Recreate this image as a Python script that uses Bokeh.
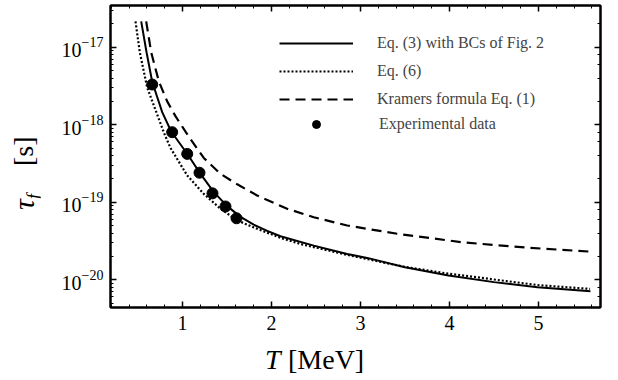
from bokeh.plotting import figure
from bokeh.models import (LinearAxis, LogAxis, Legend, LegendItem, Div,
                          FixedTicker, LogTicker, CustomJSTickFormatter, Range1d)
from bokeh.layouts import row, column
from bokeh.embed import file_html
from bokeh.resources import INLINE

# ---------------- data ----------------
T_eq3 = [0.536, 0.596, 0.66, 0.772, 0.873, 1.053, 1.202, 1.352, 1.502, 1.652,
         1.80, 1.952, 2.101, 2.475, 2.851, 3.075, 3.5, 3.989, 4.5, 4.989, 5.584]
tau_eq3 = [2.15e-17, 8.61e-18, 3.55e-18, 1.45e-18, 8.17e-19, 4.22e-19, 2.32e-19,
           1.35e-19, 8.9e-20, 6.46e-20, 5.13e-20, 4.27e-20, 3.63e-20, 2.75e-20,
           2.15e-20, 1.91e-20, 1.45e-20, 1.135e-20, 9.3e-21, 8.0e-21, 7.1e-21]

T_eq6 = [0.472, 0.52, 0.603, 0.716, 0.79, 0.865, 1.053, 1.239, 1.427, 1.615,
         1.839, 2.1, 2.33, 2.85, 3.5, 4.0, 5.0, 5.58]
tau_eq6 = [2.15e-17, 8.61e-18, 3.02e-18, 1.35e-18, 7.94e-19, 5.01e-19, 2.21e-19,
           1.28e-19, 8.22e-20, 5.81e-20, 4.54e-20, 3.47e-20, 2.88e-20, 2.09e-20,
           1.46e-20, 1.19e-20, 8.5e-21, 7.6e-21]

T_kramers = [0.592, 0.648, 0.734, 0.828, 0.921, 1.034, 1.09, 1.239, 1.427, 1.615,
             1.839, 2.176, 2.475, 2.851, 3.412, 4.161, 4.91, 5.565]
tau_kramers = [2.15e-17, 8.61e-18, 3.63e-18, 2.0e-18, 1.29e-18, 8.13e-19, 6.53e-19,
               3.72e-19, 2.32e-19, 1.70e-19, 1.22e-19, 8.22e-20, 6.40e-20, 5.0e-20,
               3.91e-20, 3.02e-20, 2.57e-20, 2.31e-20]

T_exp = [0.66, 0.884, 1.053, 1.191, 1.337, 1.483, 1.607]
tau_exp = [3.3e-18, 8.0e-19, 4.2e-19, 2.4e-19, 1.3e-19, 8.8e-20, 6.2e-20]

x_major_ticks = [1, 2, 3, 4, 5]
x_minor_ticks = [0.2, 0.4, 0.6, 0.8, 1.2, 1.4, 1.6, 1.8, 2.2, 2.4, 2.6, 2.8,
                 3.2, 3.4, 3.6, 3.8, 4.2, 4.4, 4.6, 4.8, 5.2, 5.4, 5.6]

legend_labels = ["Eq. (3) with BCs of Fig. 2", "Eq. (6)",
                 "Kramers formula Eq. (1)", "Experimental data"]

# ---------------- figure ----------------
FONT = "Liberation Serif"
X0, X1 = 0.191, 5.697
L_TOP, L_BOT = -16.462, -20.359
FW, FH = 490, 302
YLAB_W = 40          # width of the y-title column
BL, BT, BR, BB = 70, 5, 8, 36
XLAB_H = 36

p = figure(frame_width=FW, frame_height=FH, y_axis_type="log",
           x_range=Range1d(X0, X1), y_range=Range1d(10 ** L_BOT, 10 ** L_TOP),
           output_backend="svg", toolbar_location=None,
           min_border_left=BL, min_border_right=BR, min_border_top=BT,
           min_border_bottom=BB, background_fill_color="white",
           border_fill_color="white", margin=0)
p.xgrid.visible = False
p.ygrid.visible = False
p.outline_line_color = "black"
p.outline_line_width = 2

xticker = FixedTicker(ticks=x_major_ticks, minor_ticks=x_minor_ticks)
yticker = LogTicker()


def style_axis(ax):
    ax.axis_line_color = "black"
    ax.axis_line_width = 2
    ax.major_tick_in = 6
    ax.major_tick_out = 0
    ax.minor_tick_in = 3
    ax.minor_tick_out = 0
    ax.major_tick_line_width = 1.5
    ax.minor_tick_line_width = 1
    ax.major_label_text_font = FONT
    ax.major_label_text_font_size = "20px"
    ax.major_label_text_color = "black"


p.xaxis.ticker = xticker
style_axis(p.xaxis[0])
p.xaxis.major_label_standoff = 8
style_axis(p.yaxis[0])
p.yaxis.major_label_standoff = 7

blank = CustomJSTickFormatter(code="return ''")
top_ax = LinearAxis(ticker=xticker, formatter=blank, major_label_standoff=0)
style_axis(top_ax)
p.add_layout(top_ax, "above")
right_ax = LogAxis(ticker=yticker, formatter=blank, major_label_standoff=0)
style_axis(right_ax)
p.add_layout(right_ax, "right")

# ---------------- data renderers ----------------
r_eq3 = p.line(T_eq3, tau_eq3, line_color="black", line_width=2)
r_eq6 = p.line(T_eq6, tau_eq6, line_color="black", line_width=2.2, line_dash="2 2")
r_kr = p.line(T_kramers, tau_kramers, line_color="black", line_width=2.2, line_dash="10 6")
r_exp = p.scatter(T_exp, tau_exp, size=11, marker="circle", fill_color="black",
                  line_color="black")

# ---------------- legends ----------------
legA = Legend(items=[LegendItem(label=legend_labels[0], renderers=[r_eq3]),
                     LegendItem(label=legend_labels[1], renderers=[r_eq6]),
                     LegendItem(label=legend_labels[2], renderers=[r_kr])],
              location=(169, 198), glyph_width=74, glyph_height=20, label_height=20,
              spacing=8, label_standoff=24, padding=0, margin=0,
              border_line_alpha=0, background_fill_alpha=0,
              label_text_font=FONT, label_text_font_size="16px")
legB = Legend(items=[LegendItem(label=legend_labels[3], renderers=[r_exp])],
              location=(169, 173), glyph_width=74, glyph_height=20, label_height=20,
              spacing=8, label_standoff=26, padding=0, margin=0,
              border_line_alpha=0, background_fill_alpha=0,
              label_text_font=FONT, label_text_font_size="16px")
p.add_layout(legA)
p.add_layout(legB)

# ---------------- axis titles as HTML ----------------
PLOT_H = BT + FH + BB
PLOT_W = BL + FW + BR


def span(text, left, baseline, size, italic=False, rotate=False):
    b = 0.8375 * size   # baseline offset inside a line box of height = size
    style = ("position:absolute;white-space:nowrap;margin:0;padding:0;"
             f"font-family:'{FONT}',serif;font-size:{size}px;line-height:{size}px;"
             f"font-style:{'italic' if italic else 'normal'};color:black;")
    if rotate:
        # text runs upward starting at image row `left`, baseline at image column `baseline`
        style += (f"left:{baseline - b:.1f}px;top:{left:.1f}px;"
                  "transform:rotate(-90deg);transform-origin:0 0;")
    else:
        style += f"left:{left:.1f}px;top:{baseline - b:.1f}px;"
    return f'<div style="{style}">{text}</div>'


ylab_html = ('<div style="position:relative;width:%dpx;height:%dpx;overflow:visible;">' % (YLAB_W, PLOT_H + XLAB_H)
             + span("\u03c4", 210, 34, 30, italic=True, rotate=True)
             + span("f", 199, 40, 18, italic=True, rotate=True)
             + span("[s]", 166, 33, 28, rotate=True)
             + '</div>')
xlab_html = ('<div style="position:relative;width:%dpx;height:%dpx;overflow:visible;">' % (PLOT_W, XLAB_H)
             + span("T", 265 - YLAB_W, 369 - PLOT_H, 28, italic=True)
             + span("[MeV]", 288 - YLAB_W, 369 - PLOT_H, 28)
             + '</div>')

ydiv = Div(text=ylab_html, width=YLAB_W, height=PLOT_H + XLAB_H, margin=0)
xdiv = Div(text=xlab_html, width=PLOT_W, height=XLAB_H, margin=0)

layout = row(column(p, xdiv, margin=0, spacing=0), margin=0, spacing=0)
layout = row(ydiv, column(p, xdiv, margin=0, spacing=0), margin=0, spacing=0)

open("out.html", "w").write(file_html(layout, INLINE))
